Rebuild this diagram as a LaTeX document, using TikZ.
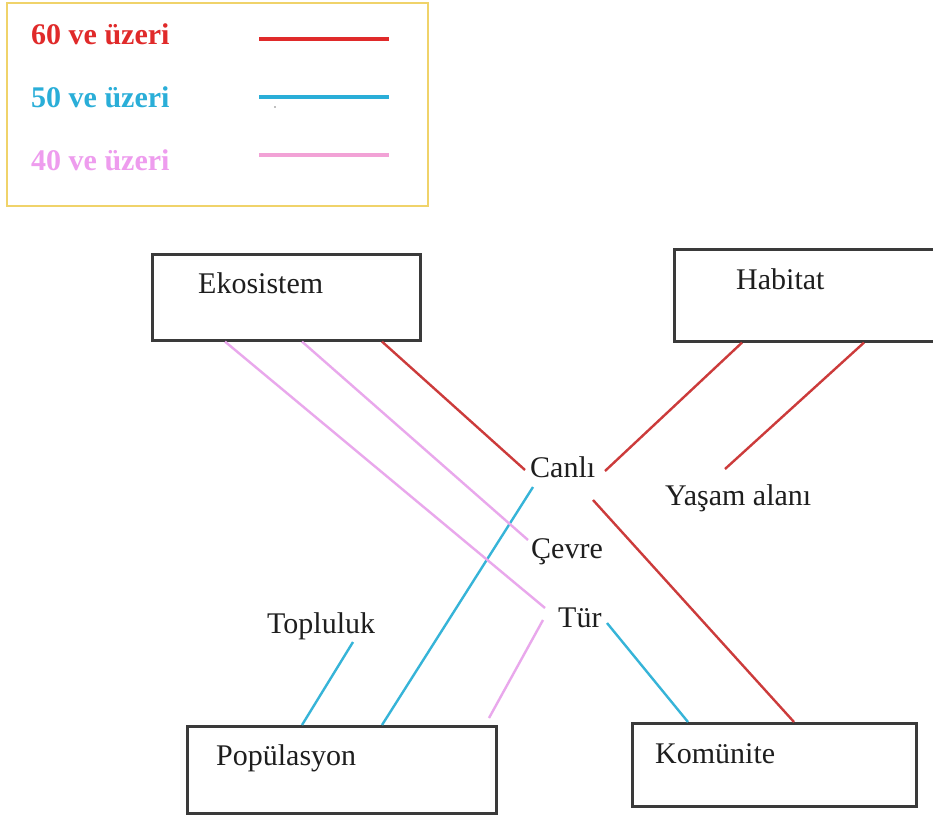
\documentclass[tikz,border=0pt]{standalone}
\usepackage{fontspec}
\setmainfont{Liberation Serif}
\usetikzlibrary{calc}
\definecolor{legred}{HTML}{E02A2A}
\definecolor{legblue}{HTML}{2AAED8}
\definecolor{legpink}{HTML}{F2A2D6}
\definecolor{txtpink}{HTML}{EE9CEE}
\definecolor{lnred}{HTML}{CC3B3B}
\definecolor{lnblue}{HTML}{36B4D8}
\definecolor{lnpink}{HTML}{E9A8EC}
\definecolor{gold}{HTML}{F0D36A}
\definecolor{boxgray}{HTML}{3A3A3A}
\definecolor{ink}{HTML}{1E1E1E}
\tikzset{
  box/.style={draw=boxgray, line width=2.6pt, fill=white, inner sep=0pt, anchor=north west},
  lbl/.style={text=ink, inner sep=0pt, anchor=base west, font=\fontsize{30}{36}\selectfont},
  legtxt/.style={inner sep=0pt, anchor=base west, font=\fontsize{30}{36}\selectfont\bfseries},
  legline/.style={line width=4pt},
  redline/.style={draw=lnred, line width=2.4pt},
  blueline/.style={draw=lnblue, line width=2.4pt},
  pinkline/.style={draw=lnpink, line width=2.4pt}
}
\begin{document}
\begin{tikzpicture}[x=1pt,y=-1pt]
\useasboundingbox (0,0) rectangle (933,814);
\clip (0,0) rectangle (933,814);
\fill[white] (0,0) rectangle (933,814);

% legend
\draw[draw=gold, line width=2.6pt] (7,3) rectangle (428,206);
\node[legtxt, text=legred] (l60) at (31,44) {60 ve üzeri};
\node[legtxt, text=legblue] (l50) at (31,107) {50 ve üzeri};
\node[legtxt, text=txtpink] (l40) at (31,170) {40 ve üzeri};
\coordinate (r1) at (259,39);  \coordinate (r2) at (389,39);
\coordinate (b1) at (259,97);  \coordinate (b2) at (389,97);
\coordinate (p1) at (259,155); \coordinate (p2) at (389,155);
\draw[legline, legred] (r1) -- (r2);
\draw[legline, legblue] (b1) -- (b2);
\draw[legline, legpink] (p1) -- (p2);
\fill[gray] (275,107) circle (0.9);

% boxes
\node[box, minimum width=268pt, minimum height=86pt] (eko) at (151,253) {};
\node[box, minimum width=270pt, minimum height=92pt] (hab) at (673,248) {};
\node[box, minimum width=309pt, minimum height=87pt] (pop) at (186,725) {};
\node[box, minimum width=284pt, minimum height=83pt] (kom) at (631,722) {};

% box captions
\node[lbl] (ekot) at (198,293) {Ekosistem};
\node[lbl] (habt) at (736,289) {Habitat};
\node[lbl] (popt) at (216,765) {Popülasyon};
\node[lbl] (komt) at (655,763) {Komünite};

% free terms
\node[lbl] (canli) at (530,477) {Canlı};
\node[lbl] (yasam) at (665,505) {Yaşam alanı};
\node[lbl] (cevre) at (531,558) {Çevre};
\node[lbl] (tur) at (558,627) {Tür};
\node[lbl] (topl) at (267,633) {Topluluk};

% 60 and above
\draw[redline] ($(eko.south west)+(231,0)$) -- ($(canli.base west)+(-5,-7)$);
\draw[redline] ($(canli.base west)+(75,-6)$) -- ($(hab.south west)+(69,0)$);
\draw[redline] ($(yasam.base west)+(60,-36)$) -- ($(hab.south west)+(191,0)$);
\draw[redline] ($(canli.base west)+(63,23)$) -- ($(kom.north west)+(163,0)$);

% 50 and above
\draw[blueline] ($(canli.base west)+(3,10)$) -- ($(pop.north west)+(196,0)$);
\draw[blueline] ($(topl.base west)+(86,9)$) -- ($(pop.north west)+(116,0)$);
\draw[blueline] ($(tur.base west)+(49,-4)$) -- ($(kom.north west)+(57,0)$);

% 40 and above
\draw[pinkline] ($(eko.south west)+(74,0)$) -- ($(tur.base west)+(-13,-19)$);
\draw[pinkline] ($(eko.south west)+(151,0)$) -- ($(cevre.base west)+(-3,-18)$);
\draw[pinkline] ($(tur.base west)+(-15,-7)$) -- ($(pop.north west)+(303,-7)$);
\end{tikzpicture}
\end{document}
